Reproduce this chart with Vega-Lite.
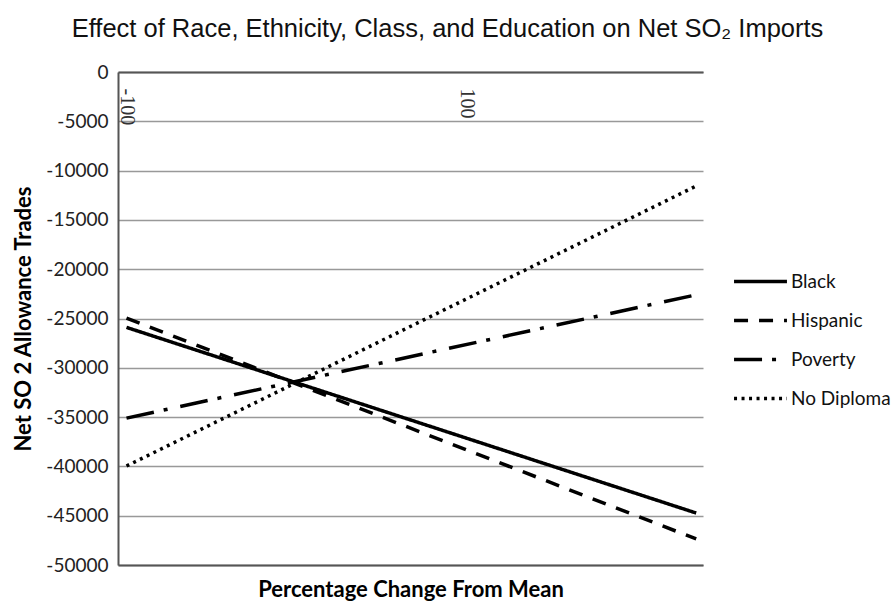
{
  "$schema": "https://vega.github.io/schema/vega-lite/v6.json",
  "width": 585,
  "height": 493,
  "autosize": {"type": "none"},
  "padding": {"left": 118, "top": 72, "right": 190, "bottom": 38},
  "background": "white",
  "title": {
    "text": "Effect of Race, Ethnicity, Class, and Education on Net SO₂ Imports",
    "font": "Liberation Sans",
    "fontSize": 25.5,
    "fontWeight": "normal",
    "color": "#111",
    "anchor": "middle",
    "dx": 37,
    "offset": 21
  },
  "data": {
    "values": [
      {"series": "Black", "x": -100, "y": -25900},
      {"series": "Black", "x": 235, "y": -44730},
      {"series": "Hispanic", "x": -100, "y": -24950},
      {"series": "Hispanic", "x": 235, "y": -47360},
      {"series": "Poverty", "x": -100, "y": -35100},
      {"series": "Poverty", "x": 235, "y": -22600},
      {"series": "No Diploma", "x": -100, "y": -39960},
      {"series": "No Diploma", "x": 235, "y": -11560}
    ]
  },
  "encoding": {
    "y": {
      "field": "y",
      "type": "quantitative",
      "scale": {"domain": [-50000, 0], "nice": false},
      "axis": {
        "values": [0, -5000, -10000, -15000, -20000, -25000, -30000, -35000, -40000, -45000, -50000],
        "title": "Net SO 2 Allowance Trades",
        "titleFont": "Lato",
        "titleFontSize": 22,
        "titleFontWeight": "bold",
        "titleColor": "#000",
        "titlePadding": 10,
        "labelFont": "Lato",
        "labelFontSize": 19,
        "labelColor": "#222",
        "labelPadding": 10,
        "labelExpr": "'' + datum.value",
        "ticks": false,
        "domainColor": "#555",
        "domainWidth": 2,
        "grid": true,
        "gridColor": "#999",
        "gridWidth": 1.5
      }
    }
  },
  "layer": [
    {
      "mark": {"type": "line", "color": "#000", "strokeWidth": 3.5},
      "encoding": {
        "x": {
          "field": "x",
          "type": "quantitative",
          "scale": {"domain": [-105, 239], "nice": false, "zero": false},
          "axis": {
            "orient": "bottom",
            "offset": -493,
            "values": [-100, 100],
            "labelExpr": "'' + datum.value",
            "labelAngle": 90,
            "labelAlign": "left",
            "labelBaseline": "middle",
            "labelPadding": 16,
            "labelFont": "Liberation Serif",
            "labelFontSize": 20,
            "labelColor": "#333",
            "ticks": false,
            "domainColor": "#555",
            "domainWidth": 2,
            "grid": false,
            "title": null
          }
        },
        "strokeDash": {
          "field": "series",
          "type": "nominal",
          "scale": {
            "domain": ["Black", "Hispanic", "Poverty", "No Diploma"],
            "range": [[1, 0], [14, 11], [28, 10, 4, 13], [3, 4.5]]
          },
          "legend": {
            "orient": "none",
            "legendX": 614,
            "legendY": 181,
            "title": null,
            "symbolType": "stroke",
            "symbolSize": 2800,
            "symbolStrokeWidth": 3.5,
            "symbolStrokeColor": "#000",
            "labelFont": "Lato",
            "labelFontSize": 19,
            "labelColor": "#111",
            "rowPadding": 0,
            "labelOffset": 2,
            "labelLimit": 300
          }
        }
      }
    },
    {
      "mark": {"type": "line", "opacity": 0},
      "encoding": {
        "x": {
          "field": "x",
          "type": "quantitative",
          "axis": {
            "orient": "bottom",
            "labels": false,
            "ticks": false,
            "domainColor": "#555",
            "domainWidth": 2,
            "grid": false,
            "title": "Percentage Change From Mean",
            "titleFont": "Lato",
            "titleFontSize": 22,
            "titleFontWeight": "bold",
            "titleColor": "#000",
            "titlePadding": 14
          }
        },
        "detail": {"field": "series"}
      }
    }
  ],
  "resolve": {"axis": {"x": "independent"}},
  "config": {"view": {"stroke": null}}
}
